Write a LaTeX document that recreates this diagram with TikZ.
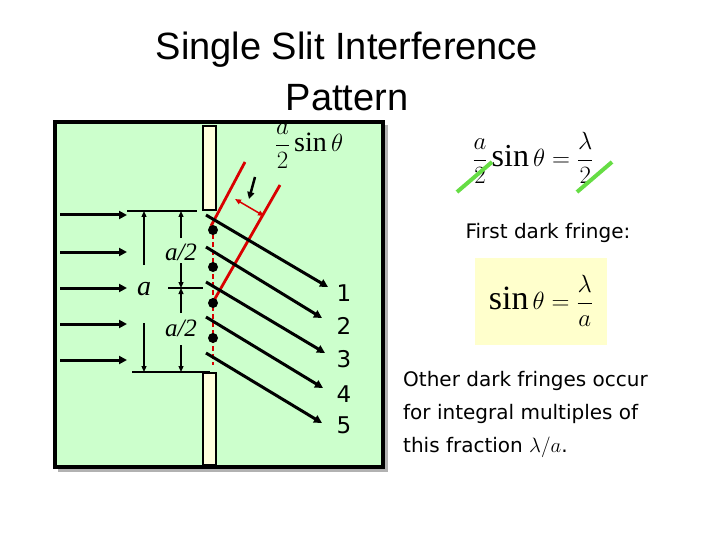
\documentclass[tikz,border=0pt]{standalone}
\usepackage{fontspec}
\setmainfont{Liberation Serif}
\newfontfamily\titlefont{Liberation Sans}
\newfontfamily\vfont{DejaVu Sans}
\usetikzlibrary{arrows.meta}
\definecolor{bgreen}{HTML}{CCFFCC}
\definecolor{pyellow}{HTML}{FFFFCC}
\definecolor{slitc}{HTML}{FFFFDD}
\definecolor{lgreen}{HTML}{66DD44}
\begin{document}
\begin{tikzpicture}[x=1pt,y=-1pt,
  ray/.style={line width=3pt,-{Triangle[length=8pt,width=8pt]}},
  dim/.style={line width=1.2pt,-{Triangle[length=6pt,width=5pt]}},
  hl/.style={line width=1.5pt},
  redl/.style={red!85!black,line width=2.8pt},
  lbl/.style={inner sep=0pt,font=\vfont\fontsize{23}{23}\selectfont}]
\useasboundingbox (0,0) rectangle (720,540);
% title
\node[font=\titlefont\fontsize{38}{51}\selectfont,align=center] (title) at (347,71) {Single Slit Interference\\Pattern};
% box
\fill[gray!60] (58,125) rectangle (388,472);
\draw[fill=bgreen,line width=4pt] (55,122) rectangle (383,467);
% slit bars
\draw[fill=slitc,line width=2pt] (203,126) rectangle (216,210);
\draw[fill=slitc,line width=2pt] (203,373) rectangle (216,465);
% incoming
\foreach \y [count=\i] in {215,252,288,324,360}{
  \coordinate (in\i) at (60,\y); \coordinate (ie\i) at (127,\y);
  \draw[ray] (in\i) -- (ie\i);}
% horizontal lines
\coordinate (t1) at (127,211); \coordinate (t2) at (197,211);
\coordinate (m1) at (168,288); \coordinate (m2) at (203,288);
\coordinate (b1) at (132,372); \coordinate (b2) at (210,372);
\draw[hl] (t1)--(t2); \draw[hl] (m1)--(m2); \draw[hl] (b1)--(b2);
% a dimension
\node[font=\itshape\fontsize{28}{28}\selectfont,inner sep=0pt] (alab) at (144,289) {a};
\draw[dim] (144,265) -- (144,211);
\draw[dim] (144,323) -- (144,372);
% a/2 dimensions
\node[font=\itshape\fontsize{25}{25}\selectfont,inner sep=0pt] (h1) at (181,252) {a/2};
\node[font=\itshape\fontsize{25}{25}\selectfont,inner sep=0pt] (h2) at (181,328) {a/2};
\draw[dim] (181,238) -- (181,211);
\draw[dim] (181,263) -- (181,288);
\draw[dim] (181,313) -- (181,288);
\draw[dim] (181,345) -- (181,372);
% red lines
\draw[red!85!black,line width=2pt,dash pattern=on 5pt off 3pt] (213,226) -- (213,365);
\coordinate (r1a) at (245,162); \coordinate (r1b) at (211,226);
\coordinate (r2a) at (280,185); \coordinate (r2b) at (213,302);
\draw[redl] (r1a) -- (r1b);
\draw[redl] (r2a) -- (r2b);
\draw[red!85!black,line width=1.5pt,{Triangle[length=6pt,width=5pt]}-{Triangle[length=6pt,width=5pt]}] (235,199) -- (264,216);
\draw[line width=2.5pt,-{Triangle[length=7pt,width=7pt]}] (255,177) -- (249,199);
\node[inner sep=0pt,font=\fontsize{28}{28}\selectfont] (asin) at (309,146) {$\displaystyle\frac{a}{2}\sin\theta$};
% dots
\foreach \y [count=\i] in {230,267,303,338}{\fill (213,\y) circle (5pt);}
% outgoing
\foreach \sy/\ex/\ey/\ly [count=\i] in {215/328/287/293, 247/322/318/326, 282/325/353/359, 317/323/388/394, 353/322/423/425}{
  \coordinate (os\i) at (206,\sy); \coordinate (oe\i) at (\ex,\ey);
  \draw[ray] (os\i) -- (oe\i);
  \node[lbl] (n\i) at (344,\ly) {\i};}
% right formulas
\node[inner sep=0pt,font=\fontsize{32}{32}\selectfont] (f1) at (533,158) {$\displaystyle\frac{a}{2}\sin\theta=\frac{\lambda}{2}$};
\draw[lgreen,line width=4pt] (457,192) -- (492,162);
\draw[lgreen,line width=4pt] (577,192) -- (612,162);
\node[inner sep=0pt,font=\vfont\fontsize{20}{20}\selectfont] (fd) at (548,233) {First dark fringe:};
\fill[pyellow] (475,258) rectangle (607,345);
\node[inner sep=0pt,font=\fontsize{34}{34}\selectfont] (f2) at (541,301) {$\displaystyle\sin\theta=\frac{\lambda}{a}$};
\node[anchor=north west,inner sep=0pt,align=left,font=\vfont\fontsize{20}{33}\selectfont] (other) at (403,371) {Other dark fringes occur\\for integral multiples of\\this fraction $\lambda/a$.};
\end{tikzpicture}
\end{document}
